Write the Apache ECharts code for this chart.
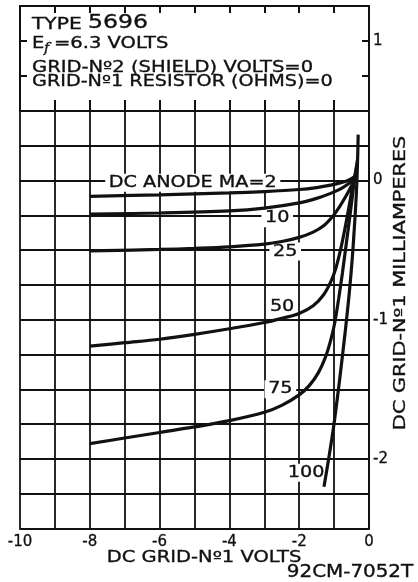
<!DOCTYPE html>
<html>
<head>
<meta charset="utf-8">
<title>Type 5696 grid-No.1 characteristics</title>
<script src="https://cdn.jsdelivr.net/npm/echarts@6.0.0/dist/echarts.min.js"></script>
<style>
  html, body { margin: 0; padding: 0; background: #fff; }
  #chart { width: 418px; height: 582px; }
</style>
</head>
<body>
<div id="chart"></div>
<script>
// DC grid-No.1 volts (x) against DC grid-No.1 milliamperes (y), one curve per anode mA
const ma2 = [[-8, -0.113], [-6, -0.102], [-4, -0.089], [-3, -0.079], [-2, -0.064], [-1.5, -0.05], [-1.1, -0.033], [-0.8, -0.015], [-0.6, 0], [-0.4, 0.03]]
const ma10 = [[-8, -0.24], [-6, -0.233], [-4, -0.218], [-3, -0.198], [-2, -0.16], [-1.5, -0.128], [-1.1, -0.092], [-0.8, -0.058], [-0.6, -0.025], [-0.47, 0.005], [-0.38, 0.035]]
const ma25 = [[-8, -0.505], [-6, -0.495], [-5, -0.487], [-4, -0.476], [-3, -0.457], [-2.5, -0.438], [-2, -0.408], [-1.6, -0.37], [-1.3, -0.325], [-1.05, -0.26], [-0.85, -0.19], [-0.68, -0.12], [-0.55, -0.06], [-0.45, -0.01], [-0.38, 0.04]]
const ma50 = [[-8, -1.19], [-7, -1.165], [-6, -1.14], [-5, -1.105], [-4, -1.065], [-3, -1.02], [-2.5, -0.99], [-2, -0.955], [-1.6, -0.9], [-1.3, -0.82], [-1.1, -0.73], [-0.95, -0.63], [-0.8, -0.48], [-0.67, -0.32], [-0.56, -0.17], [-0.47, -0.04], [-0.4, 0.04], [-0.33, 0.12]]
const ma75 = [[-8, -1.89], [-7, -1.85], [-6, -1.81], [-5, -1.77], [-4, -1.725], [-3, -1.665], [-2.5, -1.615], [-2, -1.54], [-1.7, -1.47], [-1.45, -1.38], [-1.25, -1.27], [-1.1, -1.15], [-0.98, -1.02], [-0.87, -0.85], [-0.76, -0.66], [-0.66, -0.47], [-0.56, -0.28], [-0.48, -0.12], [-0.42, 0], [-0.33, 0.15]]
const ma100 = [[-1.29, -2.2], [-1.15, -1.99], [-1.02, -1.78], [-0.9, -1.55], [-0.78, -1.3], [-0.67, -1.06], [-0.57, -0.82], [-0.48, -0.56], [-0.41, -0.3], [-0.36, -0.08], [-0.33, 0.12], [-0.31, 0.33]]

const curves = [ma2, ma10, ma25, ma50, ma75, ma100]
const curveNames = ['2', '10', '25', '50', '75', '100']
const curveLabels = ['DC ANODE MA=2', '10', '25', '50', '75', '100']
// where each curve label sits, in volts / mA
const labelAt = [[-5.05, -0.015], [-2.63, -0.27], [-2.4, -0.51], [-2.49, -0.905], [-2.54, -1.5], [-1.8, -2.1]]

const INK = '#111'
const FONT = '"DejaVu Sans"'

function minus (v) {
  return v < 0 ? '-' + Math.abs(v) : String(v)
}

// lettering on the sheet is wide, so text is stretched sideways
function txt (text, x, y, size, sx, align, extra) {
  const el = {
    type: 'text',
    x: x,
    y: y,
    scaleX: sx,
    z: 50,
    style: {
      text: text,
      font: size + 'px ' + FONT,
      fill: INK,
      stroke: INK,
      lineWidth: 0.35,
      align: align || 'left',
      textAlign: align || 'left',
      verticalAlign: 'middle',
      textVerticalAlign: 'middle'
    }
  }
  return Object.assign(el, extra || {})
}

const chart = echarts.init(document.getElementById('chart'))

const innerTick = (len) => ({ show: true, inside: true, length: len, lineStyle: { color: INK, width: 2 } })
const edge = { show: true, onZero: false, lineStyle: { color: INK, width: 2 } }
const tickFont = { color: INK, fontSize: 15, fontFamily: 'DejaVu Sans', textBorderColor: INK, textBorderWidth: 0.3 }

chart.setOption({
  animation: false,
  backgroundColor: '#fff',
  grid: [
    // ruled part of the sheet
    { left: 20, right: 49, top: 111, bottom: 53.5 },
    // box with the tube data, only edge ticks
    { left: 20, right: 49, top: 6, height: 105 }
  ],
  xAxis: [
    {
      type: 'value', gridIndex: 0, min: -10, max: 0, interval: 1,
      axisLine: edge,
      axisTick: { show: false },
      splitLine: { show: true, lineStyle: { color: INK, width: 1.8 } },
      axisLabel: Object.assign({ margin: 6, formatter: (v) => (v % 2 === 0 ? minus(v) : '') }, tickFont)
    },
    {
      type: 'value', gridIndex: 1, position: 'bottom', min: -10, max: 0, interval: 1,
      axisLine: edge, axisTick: innerTick(11), axisLabel: { show: false }, splitLine: { show: false }
    },
    {
      type: 'value', gridIndex: 1, position: 'top', min: -10, max: 0, interval: 1,
      axisLine: edge, axisTick: innerTick(7), axisLabel: { show: false }, splitLine: { show: false }
    }
  ],
  yAxis: [
    {
      type: 'value', gridIndex: 0, position: 'right', min: -2.5, max: 0.5, interval: 0.25,
      axisLine: edge,
      axisTick: { show: false },
      splitLine: { show: true, lineStyle: { color: INK, width: 1.8 } },
      axisLabel: Object.assign({ margin: 4, formatter: (v) => (Number.isInteger(v) ? minus(v) : '') }, tickFont)
    },
    {
      type: 'value', gridIndex: 1, position: 'left', min: 0.5, max: 1.25, interval: 0.25,
      axisLine: edge, axisTick: innerTick(7), axisLabel: { show: false }, splitLine: { show: false }
    },
    {
      type: 'value', gridIndex: 1, position: 'right', min: 0.5, max: 1.25, interval: 0.25,
      axisLine: edge, axisTick: innerTick(7), splitLine: { show: false },
      axisLabel: Object.assign({ margin: 4, formatter: (v) => (v === 1 ? '1' : '') }, tickFont)
    }
  ],
  series: curves.map((pts, i) => ({
    name: curveNames[i],
    type: 'line',
    xAxisIndex: 0,
    yAxisIndex: 0,
    data: pts,
    showSymbol: false,
    symbol: 'none',
    smooth: 0.35,
    silent: true,
    z: 5,
    lineStyle: { color: INK, width: 3.2 }
  }))
})

// curve labels are placed through the axes; they sit under the curves but over the ruling
const labels = curveLabels.map((t, i) => {
  const p = chart.convertToPixel({ xAxisIndex: 0, yAxisIndex: 0 }, labelAt[i])
  const el = txt(t, p[0], p[1], 16, 1.2, 'center', { z: 3 })
  el.style.backgroundColor = '#fff'
  el.style.padding = [1, 3]
  return el
})

const sheet = [
  txt('TYPE', 32, 25, 15, 1.35),
  txt('5696', 88, 23, 20, 1.18),
  txt('E', 32, 44, 15, 1.3),
  txt('f', 44, 49, 13, 1.1),
  txt('=6.3 VOLTS', 54, 44, 15, 1.3),
  txt('GRID-N\u00BA2 (SHIELD) VOLTS=0', 32, 68, 16, 1.22),
  txt('GRID-N\u00BA1 RESISTOR (OHMS)=0', 32, 82, 16, 1.2),
  txt('DC GRID-N\u00BA1 VOLTS', 204, 558, 16, 1.22, 'center'),
  txt('DC GRID-N\u00BA1 MILLIAMPERES', 401, 283, 16, 1.3, 'center', { rotation: Math.PI / 2 }),
  txt('92CM-7052T', 350, 573, 17, 1.17, 'center')
]
// the heater "f" subscript is a script letter
sheet[3].style.font = 'italic 13px "DejaVu Serif"'

chart.setOption({ graphic: { elements: labels.concat(sheet) } })
</script>
</body>
</html>
